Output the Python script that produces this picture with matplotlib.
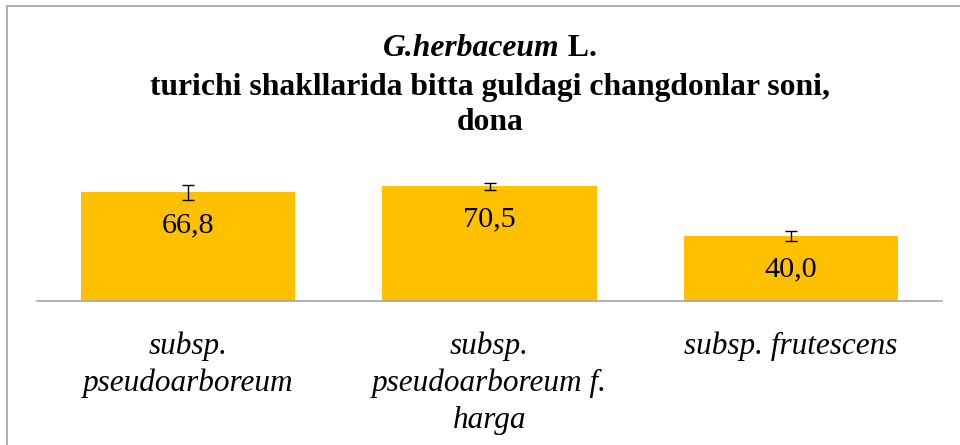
import matplotlib.pyplot as plt
from matplotlib.patches import Rectangle
import numpy as np

plt.rcParams['font.family'] = ['Liberation Serif', 'DejaVu Serif']

# Dados
categorias = ['subsp.\npseudoarboreum',
              'subsp.\npseudoarboreum f.\nharga',
              'subsp. frutescens']
valores = [66.8, 70.5, 40.0]
erros = [4.6, 2.1, 3.1]
rotulos = ['66,8', '70,5', '40,0']

W, H = 960, 445
fig = plt.figure(figsize=(W / 100, H / 100), dpi=100)

# Eixo: linha base em y=301 px, de x=37 a x=942
ax = fig.add_axes([37 / W, (H - 301) / H, 905 / W, 130.4 / H])
x = np.arange(len(categorias))
ax.bar(x, valores, width=0.71, color='#FFC000', zorder=2)
ax.errorbar(x, valores, yerr=erros, fmt='none', ecolor='black',
            elinewidth=1, capsize=4.3, capthick=1, zorder=3)

for xi, v, lab in zip(x, valores, rotulos):
    ax.annotate(lab, (xi, v), xytext=(0, -24), textcoords='offset points',
                ha='center', va='center', fontsize=21.8, color='black')

ax.set_xlim(-0.5, len(categorias) - 0.5)
ax.set_ylim(0, 80)
ax.set_xticks(x)
ax.set_xticklabels(categorias, fontsize=22.5, style='italic', linespacing=1.34)
ax.tick_params(axis='x', length=0, pad=22)
ax.set_yticks([])
for s in ['top', 'right', 'left']:
    ax.spines[s].set_visible(False)
ax.spines['bottom'].set_color('#A6A6A6')
ax.spines['bottom'].set_linewidth(1.2)

# Título (linha 1 com partes itálico e normal)
ft = 22.8
cx = 490 / W
t1a = fig.text(0, 1 - 48 / H, 'G.herbaceum', fontsize=ft, fontweight='bold',
               style='italic', ha='left', va='center')
t1b = fig.text(0, 1 - 48 / H, ' L.', fontsize=ft, fontweight='bold',
               ha='left', va='center')
fig.canvas.draw()
r = fig.canvas.get_renderer()
wa = t1a.get_window_extent(r).width
wb = t1b.get_window_extent(r).width
x0 = (490 - (wa + wb) / 2) / W
t1a.set_x(x0)
t1b.set_x(x0 + wa / W)
fig.text(cx, 1 - 87 / H, 'turichi shakllarida bitta guldagi changdonlar soni,',
         fontsize=ft, fontweight='bold', ha='center', va='center')
fig.text(cx, 1 - 123 / H, 'dona', fontsize=ft, fontweight='bold',
         ha='center', va='center')

# Moldura
fig.patches.append(Rectangle((7 / W, -0.1), 1.2, 1 - 6 / H + 0.1,
                             transform=fig.transFigure, fill=False,
                             edgecolor='#A0A0A0', linewidth=1.2))

plt.savefig('out.png', dpi=100)
